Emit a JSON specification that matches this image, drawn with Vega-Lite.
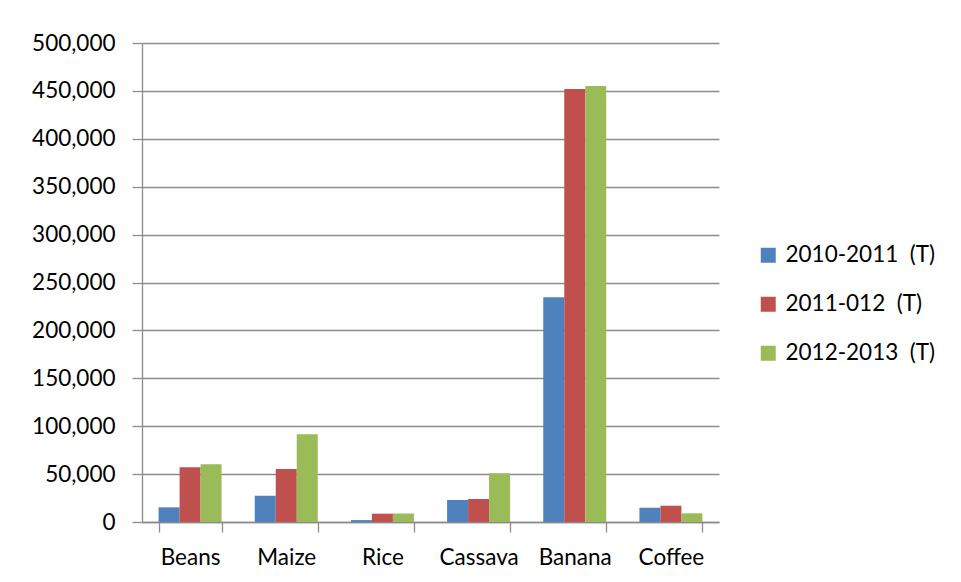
{
  "$schema": "https://vega.github.io/schema/vega-lite/v6.json",
  "width": 577,
  "height": 479,
  "autosize": {"type": "none"},
  "padding": {"left": 142, "top": 43, "right": 242, "bottom": 60},
  "background": "white",
  "config": {
    "font": "Lato",
    "view": {"stroke": null},
    "axis": {
      "labelFont": "Lato",
      "labelFontSize": 22.5,
      "labelColor": "#000000",
      "domainColor": "#8c8c8c",
      "domainWidth": 1.3,
      "tickColor": "#8c8c8c",
      "tickWidth": 1.3,
      "gridColor": "#8c8c8c",
      "gridWidth": 1.3,
      "title": null
    },
    "legend": {
      "labelFont": "Lato",
      "labelFontSize": 22.5,
      "labelColor": "#000000"
    }
  },
  "data": {
    "values": [
      {"crop": "Beans", "season": "2010-2011\u00a0\u00a0(T)", "tonnes": 15300},
      {"crop": "Beans", "season": "2011-012\u00a0\u00a0(T)", "tonnes": 57100},
      {"crop": "Beans", "season": "2012-2013\u00a0\u00a0(T)", "tonnes": 60200},
      {"crop": "Maize", "season": "2010-2011\u00a0\u00a0(T)", "tonnes": 27500},
      {"crop": "Maize", "season": "2011-012\u00a0\u00a0(T)", "tonnes": 55300},
      {"crop": "Maize", "season": "2012-2013\u00a0\u00a0(T)", "tonnes": 91500},
      {"crop": "Rice", "season": "2010-2011\u00a0\u00a0(T)", "tonnes": 2000},
      {"crop": "Rice", "season": "2011-012\u00a0\u00a0(T)", "tonnes": 8700},
      {"crop": "Rice", "season": "2012-2013\u00a0\u00a0(T)", "tonnes": 9000},
      {"crop": "Cassava", "season": "2010-2011\u00a0\u00a0(T)", "tonnes": 23000},
      {"crop": "Cassava", "season": "2011-012\u00a0\u00a0(T)", "tonnes": 24000},
      {"crop": "Cassava", "season": "2012-2013\u00a0\u00a0(T)", "tonnes": 50800},
      {"crop": "Banana", "season": "2010-2011\u00a0\u00a0(T)", "tonnes": 234500},
      {"crop": "Banana", "season": "2011-012\u00a0\u00a0(T)", "tonnes": 452000},
      {"crop": "Banana", "season": "2012-2013\u00a0\u00a0(T)", "tonnes": 455100},
      {"crop": "Coffee", "season": "2010-2011\u00a0\u00a0(T)", "tonnes": 15000},
      {"crop": "Coffee", "season": "2011-012\u00a0\u00a0(T)", "tonnes": 17000},
      {"crop": "Coffee", "season": "2012-2013\u00a0\u00a0(T)", "tonnes": 9100}
    ]
  },
  "mark": {"type": "bar"},
  "encoding": {
    "x": {
      "field": "crop",
      "type": "nominal",
      "sort": null,
      "scale": {"paddingInner": 0.345, "paddingOuter": 0.1725},
      "axis": {
        "labelAngle": 0,
        "tickBand": "extent",
        "tickSize": 10,
        "labelPadding": 14,
        "grid": false
      }
    },
    "xOffset": {
      "field": "season",
      "type": "nominal",
      "sort": null,
      "scale": {"paddingInner": 0, "paddingOuter": 0}
    },
    "y": {
      "field": "tonnes",
      "type": "quantitative",
      "scale": {"domain": [0, 500000], "nice": false},
      "axis": {
        "values": [0, 50000, 100000, 150000, 200000, 250000, 300000, 350000, 400000, 450000, 500000],
        "format": ",d",
        "tickSize": 10,
        "labelPadding": 17,
        "grid": true
      }
    },
    "color": {
      "field": "season",
      "type": "nominal",
      "sort": null,
      "scale": {"range": ["#4f81bd", "#c0504d", "#9bbb59"]},
      "legend": {
        "title": null,
        "orient": "none",
        "legendX": 615,
        "legendY": 201,
        "symbolType": "square",
        "symbolSize": 225,
        "symbolStrokeWidth": 0,
        "symbolOpacity": 1,
        "labelOffset": 6,
        "rowPadding": 26
      }
    }
  }
}
